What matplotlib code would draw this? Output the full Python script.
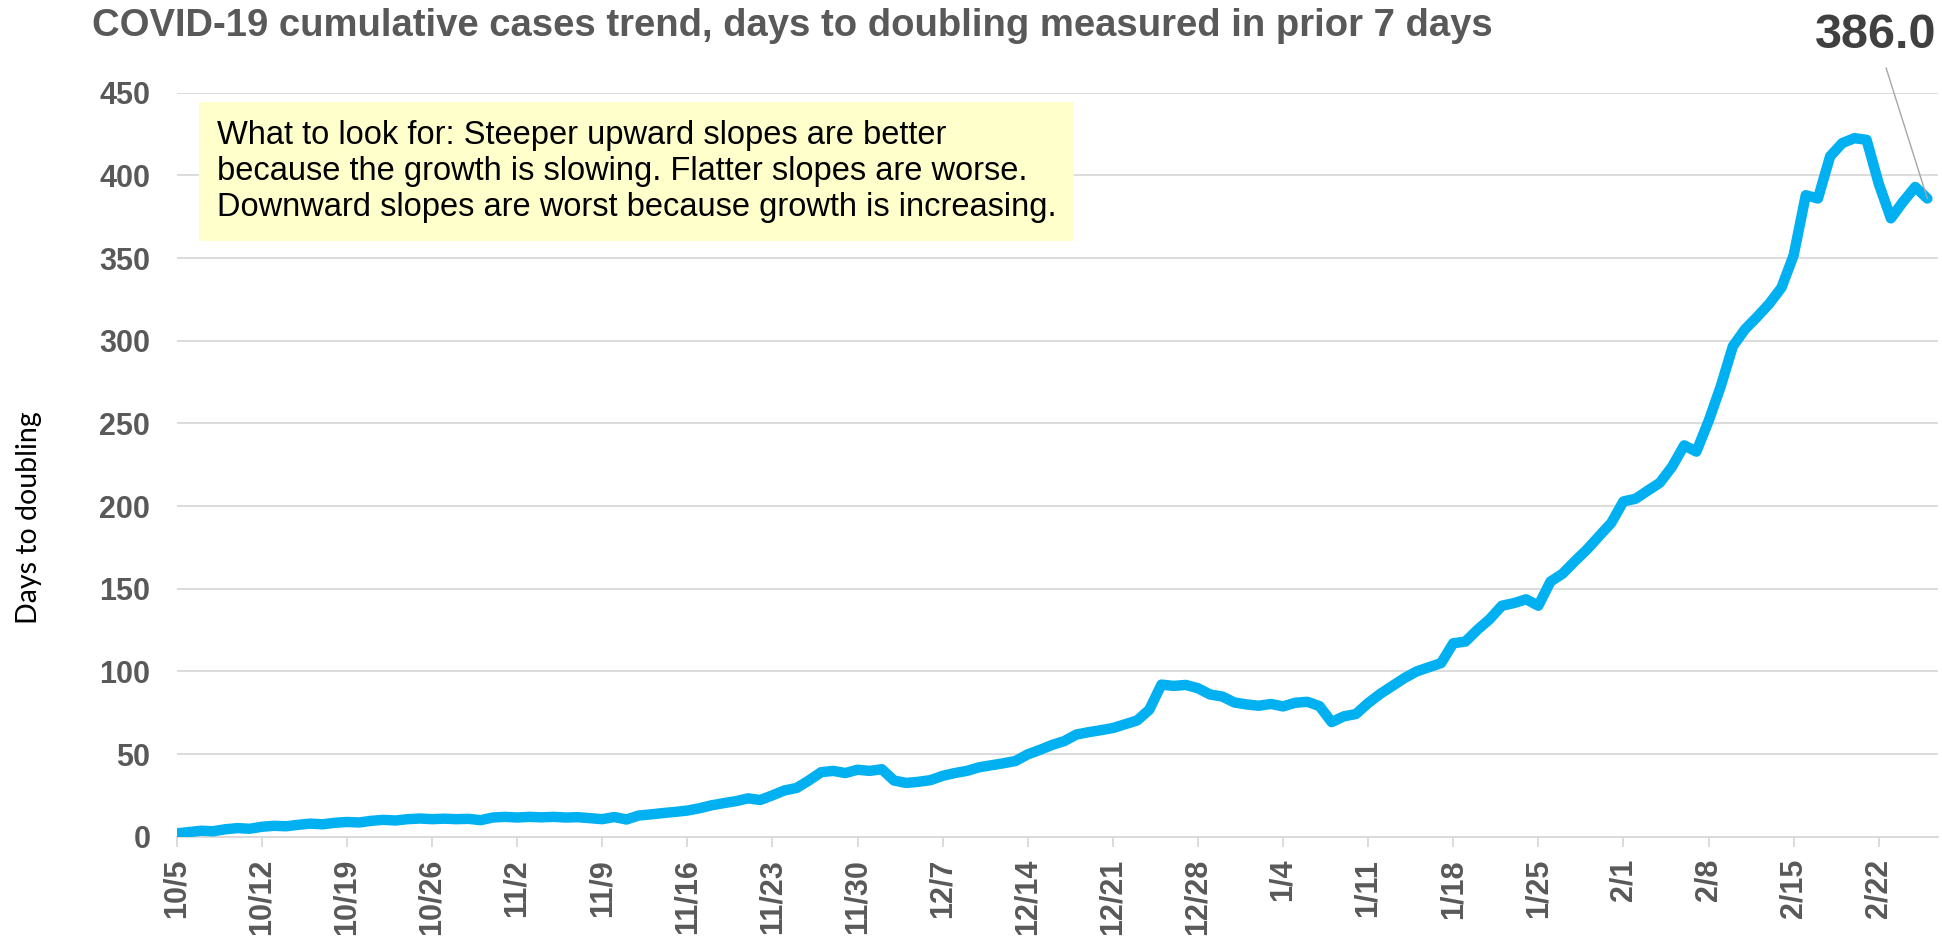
import numpy as np
import pandas as pd
import matplotlib
matplotlib.use('Agg')
import matplotlib.pyplot as plt

plt.rcParams['font.family'] = ['Liberation Sans', 'DejaVu Sans']

# days to doubling, one value per day from 10/5 to 2/26
days_to_double = [
    2.0, 2.8, 3.6, 3.3, 4.5, 5.2, 4.8, 6.0, 6.6, 6.3,
    7.2, 7.9, 7.5, 8.4, 8.9, 8.6, 9.6, 10.2, 9.8, 10.6,
    11.0, 10.6, 10.9, 10.6, 10.8, 10.0, 11.6, 12.0, 11.6, 12.0,
    11.7, 12.0, 11.6, 11.8, 11.2, 10.6, 11.9, 10.4, 12.8, 13.5,
    14.3, 15.0, 15.8, 17.2, 19.0, 20.3, 21.5, 23.2, 22.2, 25.0,
    28.0, 29.5, 34.0, 39.0, 39.8, 38.5, 40.5, 39.8, 40.8, 34.0,
    32.5, 33.2, 34.2, 36.8, 38.5, 39.8, 42.0, 43.2, 44.4, 45.8,
    49.8, 52.5, 55.5, 57.8, 61.8, 63.2, 64.4, 65.7, 68.0, 70.3,
    76.8, 92.0, 91.2, 91.8, 89.8, 86.0, 84.8, 81.2, 80.0, 79.2,
    80.3, 78.8, 81.0, 81.6, 79.0, 69.3, 72.8, 74.2, 80.8, 86.4,
    91.2, 96.0, 100.0, 102.5, 105.0, 117.0, 118.0, 125.2, 131.6, 139.7,
    141.3, 143.6, 139.7, 154.3, 159.1, 166.6, 173.7, 181.8, 189.8, 202.8,
    204.4, 209.3, 214.1, 223.8, 236.7, 232.9, 251.3, 272.3, 296.6, 306.9,
    314.4, 322.4, 332.1, 351.6, 388.0, 386.0, 411.5, 419.5, 422.5, 421.5,
    395.0, 374.0, 384.0, 393.0, 386.0,
]
start_date = '2020-10-05'
tick_labels = ['10/5', '10/12', '10/19', '10/26', '11/2', '11/9', '11/16',
               '11/23', '11/30', '12/7', '12/14', '12/21', '12/28', '1/4',
               '1/11', '1/18', '1/25', '2/1', '2/8', '2/15', '2/22']
y_ticks = [0, 50, 100, 150, 200, 250, 300, 350, 400, 450]

title = 'COVID-19 cumulative cases trend, days to doubling measured in prior 7 days'
note = ('What to look for: Steeper upward slopes are better\n'
        'because the growth is slowing. Flatter slopes are worse.\n'
        'Downward slopes are worst because growth is increasing.')

dates = pd.date_range(start_date, periods=len(days_to_double), freq='D')

W, H = 1942, 939
fig = plt.figure(figsize=(W / 100, H / 100), dpi=100)
ax = fig.add_axes([176.7 / W, 1 - 836.7 / H, (1938 - 176.7) / W, (836.7 - 92.7) / H])

ax.plot(dates, days_to_double, color='#00B0F0', lw=7.5,
        solid_joinstyle='round', solid_capstyle='round', zorder=3)

ax.set_ylim(0, 450)
ax.set_xlim(dates[0], dates[-1] + pd.Timedelta(hours=21))
ax.set_yticks(y_ticks)
ax.set_yticklabels([str(v) for v in y_ticks], fontsize=22, fontweight='bold', color='#595959')
ax.set_xticks(dates[::7][:len(tick_labels)])
ax.set_xticklabels(tick_labels, rotation=90, fontsize=22, fontweight='bold', color='#595959')

ax.yaxis.grid(True, color='#D9D9D9', lw=1.3)
ax.set_axisbelow(True)
for s in ['top', 'right', 'left']:
    ax.spines[s].set_visible(False)
ax.spines['bottom'].set_color('#D9D9D9')
ax.spines['bottom'].set_linewidth(1.3)
ax.tick_params(axis='y', length=0, pad=19)
ax.tick_params(axis='x', length=7, width=1.3, color='#D9D9D9', pad=9)

fig.text(91.5 / W, 1 - 36 / H, title, fontsize=27.5, fontweight='bold',
         color='#595959', ha='left', va='baseline')

fig.text(29 / W, 1 - 517.5 / H, 'Days to doubling', rotation=90, fontsize=20.5,
         family=['Lato', 'DejaVu Sans'], color='black', ha='center', va='center')

fig.text(216.5 / W, 1 - 120 / H, note, fontsize=23.5, color='black',
         ha='left', va='top', linespacing=1.2,
         bbox=dict(boxstyle='square,pad=0.55', fc='#FFFFCC', ec='none'))

ax.annotate(f'{days_to_double[-1]:.1f}', xy=(dates[-1], days_to_double[-1]),
            xycoords='data', xytext=(1876 / W, 1 - 36 / H), textcoords='figure fraction',
            fontsize=35, fontweight='bold', color='#404040', ha='center', va='center',
            arrowprops=dict(arrowstyle='-', color='#A6A6A6', lw=1.0, shrinkA=5, shrinkB=0),
            annotation_clip=False)

fig.savefig('out.png', dpi=100)
